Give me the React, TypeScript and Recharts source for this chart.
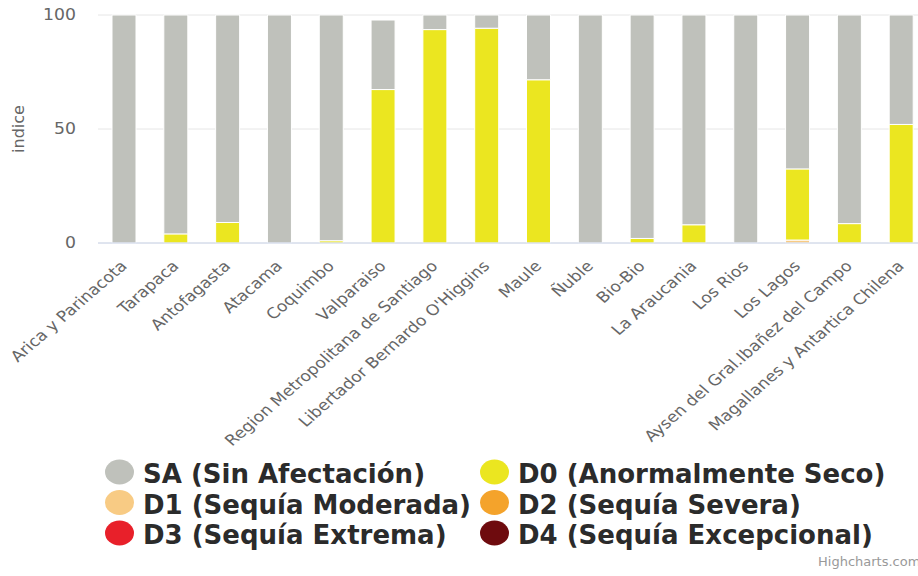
import React from "react";
import { BarChart, Bar, XAxis, YAxis, CartesianGrid } from "recharts";

// Regions of Chile (north to south)
const regions = [
  "Arica y Parinacota",
  "Tarapaca",
  "Antofagasta",
  "Atacama",
  "Coquimbo",
  "Valparaiso",
  "Region Metropolitana de Santiago",
  "Libertador Bernardo O'Higgins",
  "Maule",
  "Ñuble",
  "Bio-Bio",
  "La Araucania",
  "Los Rios",
  "Los Lagos",
  "Aysen del Gral.Ibañez del Campo",
  "Magallanes y Antartica Chilena",
];

// Percentage of each region per drought category
const saValues = [100, 96, 91, 100, 99, 30.5, 6.4, 5.8, 28.4, 100, 98, 92, 100, 67.5, 91.5, 48];
const d0Values = [0, 4, 9, 0, 1, 67.3, 93.6, 94.2, 71.6, 0, 2, 8, 0, 31.2, 8.5, 52];
const d1Values = [0, 0, 0, 0, 0, 0, 0, 0, 0, 0, 0, 0, 0, 1.3, 0, 0];
const d2Values = [0, 0, 0, 0, 0, 0, 0, 0, 0, 0, 0, 0, 0, 0, 0, 0];
const d3Values = [0, 0, 0, 0, 0, 0, 0, 0, 0, 0, 0, 0, 0, 0, 0, 0];
const d4Values = [0, 0, 0, 0, 0, 0, 0, 0, 0, 0, 0, 0, 0, 0, 0, 0];

const yTicks = [0, 50, 100];

// Series in legend order; the first one sits on top of the stack
const series = [
  { key: "SA", name: "SA (Sin Afectación)", color: "#bfc1bb", values: saValues },
  { key: "D0", name: "D0 (Anormalmente Seco)", color: "#ebe620", values: d0Values },
  { key: "D1", name: "D1 (Sequía Moderada)", color: "#f8cb84", values: d1Values },
  { key: "D2", name: "D2 (Sequía Severa)", color: "#f4a32b", values: d2Values },
  { key: "D3", name: "D3 (Sequía Extrema)", color: "#e8202a", values: d3Values },
  { key: "D4", name: "D4 (Sequía Excepcional)", color: "#6e0b0e", values: d4Values },
];

const data = regions.map((region, i) => {
  const row: Record<string, string | number> = { region };
  series.forEach((s) => {
    row[s.key] = s.values[i];
  });
  return row;
});

const STRETCH = 1.15;

const XTick = (props: any) => {
  const { x, y, payload } = props;
  return (
    <g transform={`translate(${x + 4},${y + 16}) scale(${STRETCH},1) rotate(-45)`}>
      <text x={0} y={0} textAnchor="end" fontSize={15} fill="#666666" fontFamily="DejaVu Sans">
        {payload.value}
      </text>
    </g>
  );
};

const YTick = (props: any) => {
  const { x, y, payload } = props;
  return (
    <g transform={`translate(${x},${y}) scale(${STRETCH},1)`}>
      <text x={0} y={0} dy="0.36em" textAnchor="end" fontSize={15} fill="#666666" fontFamily="DejaVu Sans">
        {payload.value}
      </text>
    </g>
  );
};

const Legend = () => {
  const cols = 2;
  return (
    <svg width={918} height={120} style={{ position: "absolute", left: 0, top: 440 }}>
      {series.map((s, i) => {
        const col = i % cols;
        const row = Math.floor(i / cols);
        const tx = col === 0 ? 143 : 518;
        const baseY = 43 + row * 30.5;
        return (
          <g key={s.key}>
            <ellipse cx={tx - 23.5} cy={baseY - 11} rx={14.5} ry={12.5} fill={s.color} />
            <text
              x={tx}
              y={baseY}
              fontSize={26}
              fontWeight="bold"
              fill="#2b2b2b"
              fontFamily="DejaVu Sans"
            >
              {s.name}
            </text>
          </g>
        );
      })}
    </svg>
  );
};

export default function App() {
  return (
    <div
      style={{
        position: "fixed",
        left: 0,
        top: 0,
        width: 918,
        height: 576,
        overflow: "hidden",
        background: "#ffffff",
      }}
    >
      <BarChart
        width={930}
        height={576}
        data={data}
        margin={{ top: 15, right: 3, bottom: 0, left: 0 }}
        barSize={24}
      >
        <CartesianGrid vertical={false} stroke="#e6e6e6" />
        <XAxis
          dataKey="region"
          interval={0}
          height={333}
          tickLine={false}
          axisLine={{ stroke: "#ccd6eb" }}
          tick={<XTick />}
        />
        <YAxis
          width={98}
          domain={[0, 100]}
          ticks={yTicks}
          axisLine={false}
          tickLine={false}
          tickMargin={16}
          tick={<YTick />}
          label={{
            value: "indice",
            angle: -90,
            position: "insideLeft",
            offset: 18,
            style: { fontSize: 16, fill: "#666666", fontFamily: "DejaVu Sans", textAnchor: "middle" },
          }}
        />
        {[...series].reverse().map((s) => (
          <Bar
            key={s.key}
            dataKey={s.key}
            name={s.name}
            stackId="indice"
            fill={s.color}
            stroke="#ffffff"
            strokeWidth={1}
            isAnimationActive={false}
          />
        ))}
      </BarChart>
      <Legend />
      <div
        style={{
          position: "absolute",
          left: 818,
          top: 554,
          fontSize: 13,
          color: "#999999",
          fontFamily: "DejaVu Sans",
          whiteSpace: "nowrap",
        }}
      >
        Highcharts.com
      </div>
    </div>
  );
}
